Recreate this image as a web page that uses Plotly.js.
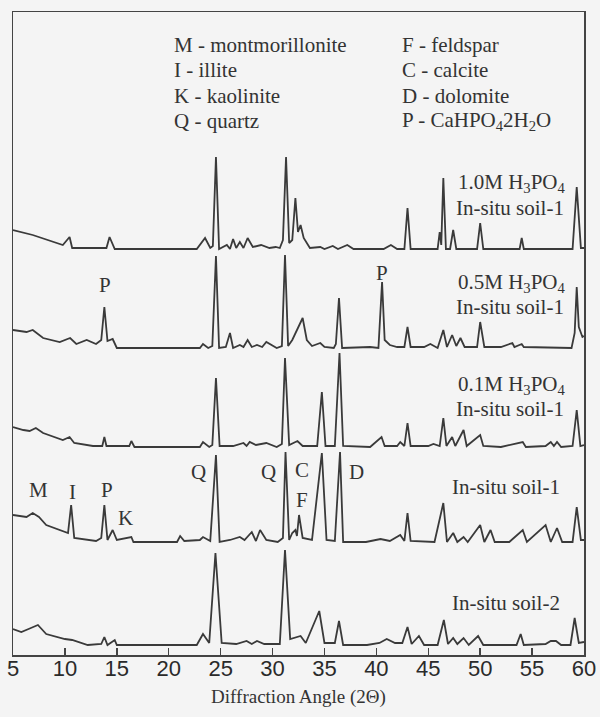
<!DOCTYPE html>
<html><head><meta charset="utf-8">
<script src="https://cdn.plot.ly/plotly-3.0.1.min.js"></script>
<style>html,body{margin:0;padding:0;background:#f4f4f4;}</style>
</head><body><div id="chart" style="width:600px;height:717px;"></div>
<script>
// Diffraction angle (2Θ) and relative intensity (height above each pattern's own baseline)
const x_10M = [5.0,6.9,9.8,10.45,10.7,14.0,14.3,14.8,22.7,23.0,23.5,24.0,24.25,24.55,24.85,25.6,25.9,26.2,26.5,26.85,27.2,27.6,28.1,28.9,29.7,30.3,30.7,31.0,31.3,31.6,31.9,32.2,32.45,32.7,33.0,33.6,34.6,35.0,35.8,36.3,37.2,37.8,40.7,41.4,42.0,42.7,43.0,43.3,45.9,46.1,46.25,46.45,46.7,47.1,47.4,47.7,49.7,50.0,50.3,53.8,54.0,54.2,58.9,59.3,59.7,60.0];
const y_10M = [19,14,4,12,1,1,12,0,0,4,11,1,3,92,0,4,0,10,1,7,1,11,2,4,1,2,1,9,92,6,9,51,17,24,11,1,2,0,3,0,4,0,0,4,0,0,41,0,0,17,4,71,0,0,19,0,0,26,0,0,11,0,0,62,1,1];

const x_05M = [5.0,6.3,6.9,7.9,9.5,10.5,11.1,12.1,13.0,13.5,13.8,14.1,14.6,15.0,23.0,23.3,23.8,24.2,24.55,24.85,25.5,25.9,26.2,26.85,27.2,27.6,28.0,28.5,29.0,29.4,30.4,30.9,31.2,31.5,31.9,32.9,33.3,33.8,34.6,35.0,35.9,36.1,36.4,36.7,39.4,40.2,40.55,40.8,41.3,42.0,42.7,43.0,43.3,44.6,45.2,45.9,46.45,46.8,47.3,47.7,48.1,48.5,49.7,50.0,50.4,52.0,53.1,53.3,54.0,54.2,58.8,59.1,59.3,59.5,59.85,60.0];
const y_05M = [18,16,18,10,6,10,4,8,4,8,41,7,9,0,0,4,0,2,92,0,1,15,0,3,1,8,1,3,1,6,0,2,93,2,8,30,8,2,5,1,0,4,50,0,1,0,66,8,3,1,1,21,1,1,4,0,18,1,13,2,10,1,1,26,1,1,5,1,4,1,0,15,61,21,11,12];

const x_01M = [5.0,6.0,6.6,7.2,7.9,9.8,10.45,10.9,12.7,13.6,13.8,14.0,16.2,16.4,16.7,23.0,23.3,23.9,24.2,24.55,24.9,26.2,27.2,27.5,27.8,28.4,29.4,30.4,30.9,31.2,31.6,32.0,32.4,32.9,34.3,34.75,35.1,36.0,36.45,36.8,39.4,40.5,40.8,42.0,42.3,42.7,43.0,43.3,45.0,45.5,46.1,46.45,46.75,47.3,47.6,48.4,48.7,50.0,50.3,52.0,54.1,54.4,56.3,56.8,57.1,57.4,57.8,58.9,59.3,59.65,60.0];
const y_01M = [20,17,16,19,14,7,10,4,1,1,10,1,1,6,0,0,5,0,2,69,1,1,4,1,5,2,4,0,3,89,2,4,6,1,1,55,1,1,94,1,0,10,1,1,5,1,24,1,1,3,1,29,1,10,1,17,1,12,1,0,5,0,1,5,1,5,0,1,37,1,2];

const x_soil1 = [5.0,6.3,6.9,7.5,8.2,9.5,10.3,10.6,10.9,13.0,13.5,13.8,14.1,14.6,15.0,16.4,16.6,20.8,21.1,21.5,23.0,23.3,24.0,24.55,24.9,25.9,26.85,27.3,28.0,28.4,28.8,29.4,30.5,31.0,31.25,31.6,31.9,32.2,32.35,32.55,32.9,33.8,34.75,35.2,36.0,36.5,36.8,39.0,40.4,41.3,42.3,42.7,43.0,43.3,45.6,46.45,46.8,47.4,47.8,48.4,48.8,50.0,50.4,51.0,51.4,52.8,54.1,54.5,56.3,56.8,57.4,57.9,58.9,59.3,59.7,60.0];
const y_soil1 = [27,25,29,25,17,12,9,37,4,1,4,37,2,12,2,5,0,0,6,1,2,5,1,87,0,2,5,2,10,1,12,2,0,4,90,2,9,12,6,27,4,2,89,2,1,90,0,0,3,1,7,1,29,1,0,39,0,9,0,5,0,17,0,12,0,0,12,0,17,0,14,0,0,35,2,2];

const x_soil2 = [5.0,5.8,6.5,7.4,8.2,10.0,10.7,12.2,13.5,13.8,14.1,14.8,15.0,22.7,23.3,23.9,24.5,25.1,26.5,27.5,28.0,28.5,29.2,30.7,31.2,31.7,32.7,33.2,34.5,35.0,36.0,36.4,36.8,39.1,40.3,41.0,41.8,42.5,43.0,43.4,44.1,44.6,45.9,46.5,46.9,47.4,47.8,48.4,48.9,49.8,50.3,53.5,53.9,54.2,56.3,56.8,57.3,57.8,58.7,59.1,59.5,60.0];
const y_soil2 = [16,13,16,20,11,6,5,0,1,8,0,5,0,0,11,2,92,2,1,4,1,4,1,1,95,6,9,2,34,2,2,24,0,0,2,6,2,2,18,1,9,0,0,25,1,7,1,7,0,9,0,0,11,0,1,4,4,0,0,27,2,3];

const tickVals = [5,10,15,20,25,30,35,40,45,50,55,60];
const tickText = ["5","10","15","20","25","30","35","40","45","50","55","60"];

const W = 600, H = 717, L = 13, R = 16, T = 12, B = 62;
const pw = W - L - R, ph = H - T - B;
const px2x = p => (p - L) / pw;
const py2y = p => (H - B - p) / ph;

// vertical offsets (in axis units = pixels) of each pattern's baseline
const patterns = [
  {x: x_10M, y: y_10M, off: 406},
  {x: x_05M, y: y_05M, off: 307},
  {x: x_01M, y: y_01M, off: 208},
  {x: x_soil1, y: y_soil1, off: 113},
  {x: x_soil2, y: y_soil2, off: 10}
];

const lineColor = '#3a3a3a';
const traces = patterns.map(p => ({
  type: 'scatter', mode: 'lines',
  x: p.x, y: p.y.map(v => v + p.off),
  line: {color: lineColor, width: 1.8, shape: 'linear'},
  hoverinfo: 'skip', showlegend: false
}));
// empty carrier trace so the label axis is drawn
traces.push({type: 'scatter', mode: 'lines', x: [], y: [], xaxis: 'x2', showlegend: false, hoverinfo: 'skip'});

const serif = 'Liberation Serif, Times New Roman, serif';
const txtCol = '#333333';
function ann(text, px, py, anchor, size) {
  return {text: text, xref: 'paper', yref: 'paper', x: px2x(px), y: py2y(py),
    xanchor: anchor || 'center', yanchor: 'middle', showarrow: false,
    font: {family: serif, size: size || 21, color: txtCol}};
}

const annotations = [
  ann('M - montmorillonite', 172, 45, 'left'),
  ann('I - illite', 172, 70, 'left'),
  ann('K - kaolinite', 172, 96, 'left'),
  ann('Q - quartz', 172, 121, 'left'),
  ann('F - feldspar', 400, 45, 'left'),
  ann('C - calcite', 400, 70, 'left'),
  ann('D - dolomite', 400, 96, 'left'),
  ann('P - CaHPO<sub>4</sub>2H<sub>2</sub>O', 400, 121, 'left'),
  ann('1.0M H<sub>3</sub>PO<sub>4</sub>', 568, 183, 'right'),
  ann('In-situ soil-1', 566, 208, 'right'),
  ann('0.5M H<sub>3</sub>PO<sub>4</sub>', 568, 283, 'right'),
  ann('In-situ soil-1', 566, 307, 'right'),
  ann('0.1M H<sub>3</sub>PO<sub>4</sub>', 568, 385, 'right'),
  ann('In-situ soil-1', 566, 409, 'right'),
  ann('In-situ soil-1', 562, 487, 'right'),
  ann('In-situ soil-2', 562, 603, 'right'),
  ann('P', 105, 285), ann('P', 382, 273),
  ann('M', 38, 490), ann('I', 72, 492), ann('P', 107, 490), ann('K', 125, 518),
  ann('Q', 198, 472), ann('Q', 268, 472), ann('C', 302, 470), ann('F', 302, 500), ann('D', 357, 472)
];

const layout = {
  width: W, height: H,
  margin: {l: L, r: R, t: T, b: B, pad: 0},
  paper_bgcolor: '#f4f4f4', plot_bgcolor: '#f4f4f4',
  showlegend: false,
  xaxis: {
    range: [5, 60], tickvals: tickVals, showticklabels: false,
    ticks: 'inside', ticklen: 7, tickwidth: 1.5, tickcolor: '#444',
    showline: true, linecolor: '#444', linewidth: 1.5, mirror: true,
    showgrid: false, zeroline: false, fixedrange: true
  },
  xaxis2: {
    range: [5, 60], overlaying: 'x', anchor: 'free', position: py2y(653),
    tickvals: tickVals, ticktext: tickText, ticks: '', showline: false,
    showgrid: false, zeroline: false, fixedrange: true,
    tickfont: {family: 'Liberation Sans, Arial, sans-serif', size: 22, color: '#2a2a2a'},
    title: {text: 'Diffraction Angle (2Θ)', font: {family: serif, size: 19, color: txtCol}, standoff: 9}
  },
  yaxis: {
    range: [0, ph], showticklabels: false, ticks: '', showgrid: false, zeroline: false,
    showline: true, linecolor: '#444', linewidth: 1.5, mirror: true, fixedrange: true
  },
  annotations: annotations
};

Plotly.newPlot('chart', traces, layout, {displayModeBar: false, staticPlot: true});
</script>
</body></html>
